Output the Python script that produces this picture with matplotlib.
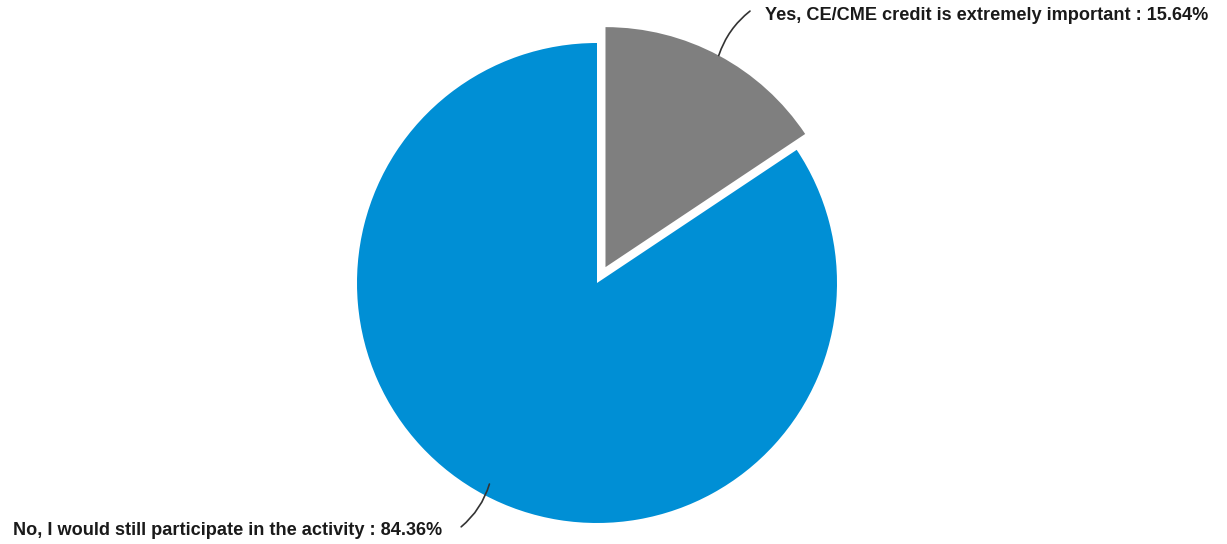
import numpy as np
import matplotlib.pyplot as plt

# Survey answers and their shares (%)
labels = ["Yes, CE/CME credit is extremely important",
          "No, I would still participate in the activity"]
shares = [15.64, 84.36]
colors = ["#7f7f7f", "#008fd5"]
explode = [0.075, 0]

W, H = 1227, 544
cx, cy, r = 597, 544 - 283, 240  # pie centre and radius in pixels

fig = plt.figure(figsize=(W / 100, H / 100), dpi=100)
ax = fig.add_axes([0, 0, 1, 1])
wedges, _ = ax.pie(shares, colors=colors, explode=explode, startangle=90,
                   counterclock=False, radius=1)
ax.set_xlim(-cx / r, (W - cx) / r)
ax.set_ylim(-cy / r, (H - cy) / r)
ax.set_aspect("auto")
ax.axis("off")

txt = dict(fontsize=13.1, fontweight="bold", family="Liberation Sans", color="#1a1a1a", va="center")

# leader line + label for each slice
start = 90.0
spots = [((0.6375, 1.133), (0.70, 1.113), "left", 1.0),
         ((-0.566, -1.016), (-0.645, -1.03), "right", 0.95)]
for w, lab, val, (end, tpos, ha, rr) in zip(wedges, labels, shares, spots):
    span = 360 * val / 100
    mid = np.deg2rad(start - span / 2)
    start -= span
    ox, oy = w.center
    p = (ox + rr * np.cos(mid), oy + rr * np.sin(mid))
    ax.annotate("", xy=end, xytext=p,
                arrowprops=dict(arrowstyle="-", color="#333333", lw=1.2,
                                shrinkA=0, shrinkB=0,
                                connectionstyle="arc3,rad=-0.15"))
    ax.text(tpos[0], tpos[1], f"{lab} : {val:.2f}%", ha=ha, **txt)

fig.savefig("out.png", dpi=100)
